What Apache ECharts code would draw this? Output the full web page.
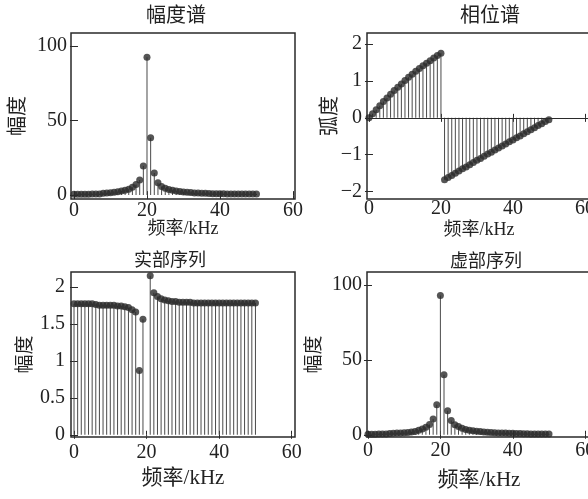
<!DOCTYPE html>
<html><head><meta charset="utf-8">
<script src="https://cdn.jsdelivr.net/npm/echarts@6/dist/echarts.min.js"></script>
<style>html,body{margin:0;padding:0;background:#fff}#c{width:588px;height:499px}</style>
</head><body><div id="c"></div>
<script>
// ---- data ----
const freq = [0,1,2,3,4,5,6,7,8,9,10,11,12,13,14,15,16,17,18,19,20,21,22,23,24,25,26,27,28,29,30,31,32,33,34,35,36,37,38,39,40,41,42,43,44,45,46,47,48,49,50];
const magnitude = [0.6,0.6,0.6,0.6,0.6,0.7,0.7,0.8,1.2,1.4,1.6,1.9,2.2,2.7,3.2,4.0,5.3,7.2,10.2,19.5,92.5,38.5,14.8,8.3,5.8,4.6,3.8,3.2,2.7,2.4,2.1,1.9,1.7,1.5,1.4,1.3,1.2,1.1,1.0,1.0,0.9,0.9,0.8,0.8,0.8,0.7,0.7,0.7,0.7,0.7,0.7];
const phase = [0,0.11,0.22,0.33,0.44,0.54,0.64,0.74,0.83,0.92,1.01,1.10,1.18,1.26,1.34,1.41,1.48,1.55,1.62,1.69,1.75,
  -1.68,-1.62,-1.56,-1.50,-1.44,-1.38,-1.33,-1.27,-1.21,-1.15,-1.10,-1.04,-0.98,-0.93,-0.87,-0.82,-0.76,-0.71,-0.65,-0.60,-0.54,-0.49,-0.43,-0.38,-0.32,-0.27,-0.21,-0.16,-0.10,-0.05];
const realPart = [1.77,1.77,1.77,1.77,1.77,1.77,1.76,1.75,1.75,1.75,1.75,1.75,1.74,1.74,1.73,1.72,1.69,1.66,0.87,1.56,-16,2.15,1.92,1.87,1.84,1.82,1.81,1.80,1.80,1.79,1.79,1.79,1.79,1.78,1.78,1.78,1.78,1.78,1.78,1.78,1.78,1.78,1.78,1.78,1.78,1.78,1.78,1.78,1.78,1.78,1.78];
const imagPart = [0.3,0.3,0.3,0.5,0.5,0.5,0.9,1.0,1.1,1.2,1.3,1.5,1.8,2.2,3.0,3.8,5.0,6.8,10.5,20.0,93.0,40.0,16.0,9.5,6.7,5.5,4.3,3.5,3.0,2.6,2.3,2.1,1.9,1.7,1.5,1.3,1.2,1.1,1.1,1.0,1.0,0.9,0.8,0.7,0.6,0.5,0.5,0.5,0.5,0.5,0.5];
const xTicks = [0,20,40,60];
const magTicks = [0,50,100];
const phaseTicks = [-2,-1,0,1,2];
const realTicks = [0,0.5,1,1.5,2];
const titles = ['幅度谱','相位谱','实部序列','虚部序列'];
const yNames = ['幅度','弧度','幅度','幅度'];
const xName = '频率/kHz';

// ---- layout ----
const panels = [
  {vals: magnitude, yTicks: magTicks, grid:{left:71,top:33,width:224,height:166}, xr:[-0.82,60.55], yr:[-2.6,108.7],
   title:{x:176,y:7,size:20}, xLab:{margin:2,size:20}, xNameCfg:{gap:21,size:18}, yLab:{margin:4}, yNameCfg:{gap:42,size:20}},
  {vals: phase, yTicks: phaseTicks, grid:{left:367,top:33,width:224,height:166}, xr:[-0.55,61.7], yr:[-2.2,2.3], zero:true,
   title:{x:490,y:7,size:20}, xLab:{margin:0,size:20}, xNameCfg:{gap:22,size:18}, yLab:{margin:5}, yNameCfg:{gap:26,size:20}},
  {vals: realPart, yTicks: realTicks, grid:{left:71,top:272,width:224,height:165}, xr:[-0.83,60.9], yr:[-0.03,2.2],
   title:{x:170,y:252,size:18}, xLab:{margin:6,size:20}, xNameCfg:{gap:31,size:21}, yLab:{margin:6}, yNameCfg:{gap:35,size:19}},
  {vals: imagPart, yTicks: magTicks, grid:{left:367,top:272,width:224,height:165}, xr:[-0.27,61.6], yr:[-1.5,108.7],
   title:{x:486,y:253,size:18}, xLab:{margin:4,size:20}, xNameCfg:{gap:33,size:21}, yLab:{margin:5}, yNameCfg:{gap:42,size:19}}
];

const FONT = '"Liberation Serif", "Noto Sans CJK SC", serif';
const TXT = '#222';
const FRAME = '#2a2a2a';
const fmt = v => String(v).replace('-', '\u2212');

const option = {animation:false, backgroundColor:'#fff', title:[], grid:[], xAxis:[], yAxis:[], series:[]};

panels.forEach((p, i) => {
  option.title.push({text: titles[i], left: p.title.x, top: p.title.y, textAlign:'center', padding:0,
    textStyle:{fontFamily:FONT, fontSize:p.title.size, fontWeight:'normal', color:TXT}});
  option.grid.push(Object.assign({show:true, borderColor:FRAME, borderWidth:1.5, backgroundColor:'transparent',
    containLabel:false, outerBoundsMode:'none'}, p.grid));
  option.xAxis.push({type:'value', gridIndex:i, min:p.xr[0], max:p.xr[1],
    axisLine:{show:false}, splitLine:{show:false},
    axisTick:{show:true, inside:true, length:4, customValues:xTicks, lineStyle:{color:FRAME}},
    axisLabel:{customValues:xTicks, formatter:fmt, margin:p.xLab.margin, fontFamily:FONT, fontSize:p.xLab.size, color:TXT},
    name:xName, nameLocation:'middle', nameGap:p.xNameCfg.gap, nameMoveOverlap:false,
    nameTextStyle:{fontFamily:FONT, fontSize:p.xNameCfg.size, color:TXT}});
  option.yAxis.push({type:'value', gridIndex:i, min:p.yr[0], max:p.yr[1],
    axisLine:{show:false}, splitLine:{show:false},
    axisTick:{show:true, inside:true, length:4, customValues:p.yTicks, lineStyle:{color:FRAME}},
    axisLabel:{customValues:p.yTicks, formatter:fmt, margin:p.yLab.margin, fontFamily:FONT, fontSize:20, color:TXT},
    name:yNames[i], nameLocation:'middle', nameGap:p.yNameCfg.gap, nameRotate:90, nameMoveOverlap:false,
    nameTextStyle:{fontFamily:FONT, fontSize:p.yNameCfg.size, color:TXT}});
  const data = freq.map((f, k) => [f, p.vals[k]]);
  const bar = {type:'bar', xAxisIndex:i, yAxisIndex:i, data, barWidth:1, clip:true,
    itemStyle:{color:'#4a4a4a'}, silent:true};
  if (p.zero) {
    bar.markLine = {silent:true, symbol:['none','none'], label:{show:false},
      lineStyle:{color:FRAME, width:1, type:'solid'}, data:[{yAxis:0}]};
  }
  option.series.push(bar);
  option.series.push({type:'scatter', xAxisIndex:i, yAxisIndex:i, data, symbolSize:7, clip:true,
    itemStyle:{color:'#2b2b2b'}, silent:true});
});

// mirrored ticks on top/right edges
panels.forEach((p, i) => {
  option.xAxis.push({type:'value', gridIndex:i, position:'top', min:p.xr[0], max:p.xr[1],
    axisLine:{show:false}, splitLine:{show:false}, axisLabel:{show:false},
    axisTick:{show:true, inside:true, length:4, customValues:xTicks, lineStyle:{color:FRAME}}});
  option.yAxis.push({type:'value', gridIndex:i, position:'right', min:p.yr[0], max:p.yr[1],
    axisLine:{show:false}, splitLine:{show:false}, axisLabel:{show:false},
    axisTick:{show:true, inside:true, length:4, customValues:p.yTicks, lineStyle:{color:FRAME}}});
});

const chart = echarts.init(document.getElementById('c'), null, {renderer:'canvas'});
chart.setOption(option);
</script>
</body></html>
